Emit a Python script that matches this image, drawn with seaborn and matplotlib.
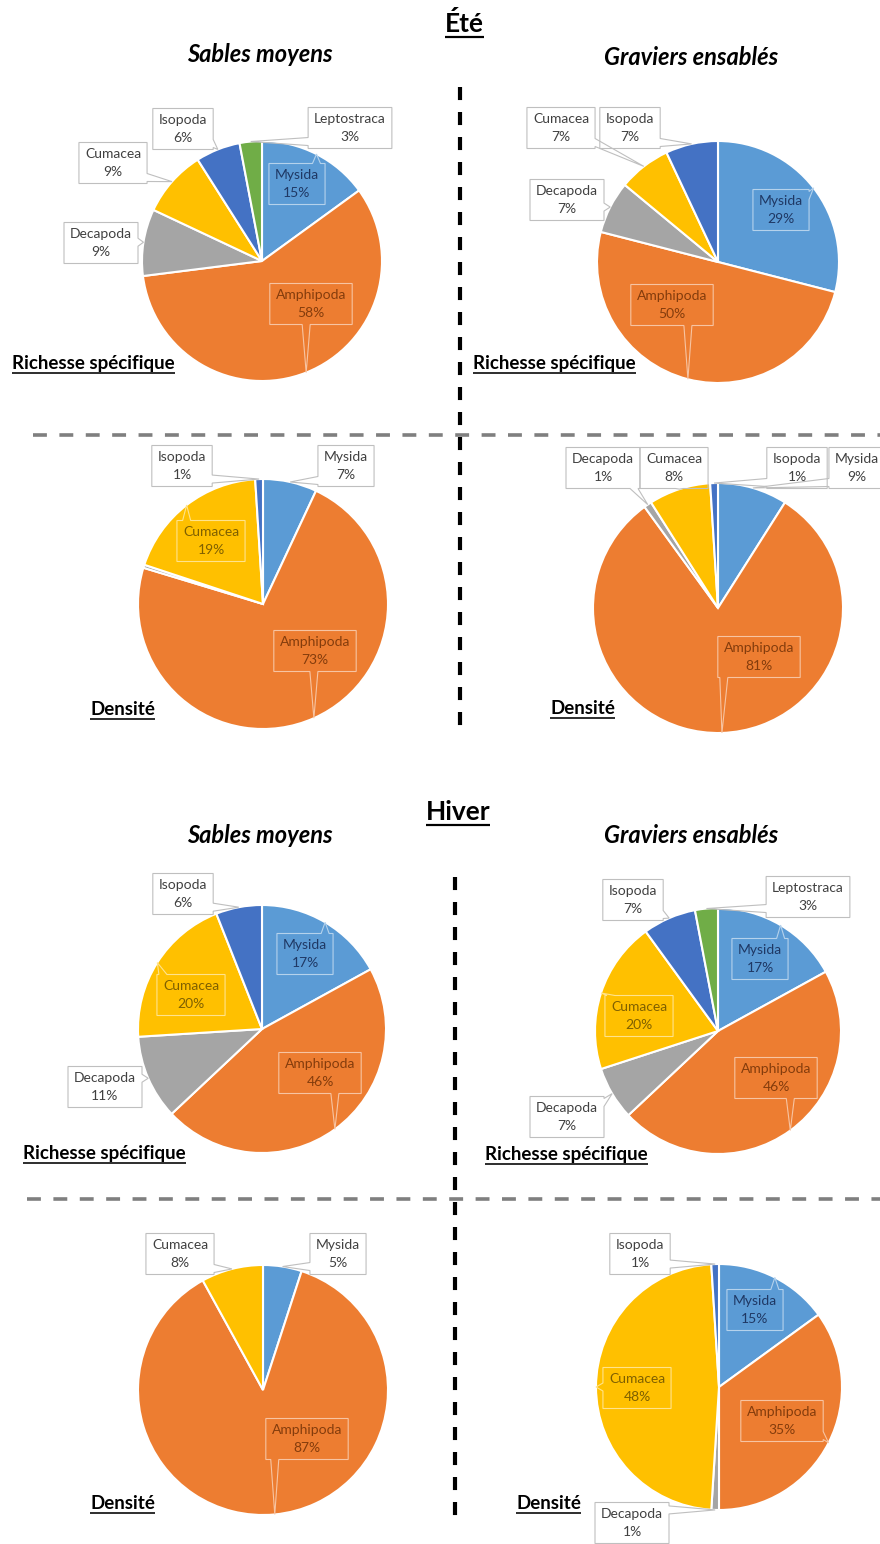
import numpy as np
import matplotlib
matplotlib.use("Agg")
import matplotlib.pyplot as plt
from matplotlib.patches import Polygon
from matplotlib.colors import to_rgb
import seaborn as sns

W, H = 880, 1544

taxa = ["Mysida", "Amphipoda", "Decapoda", "Cumacea", "Isopoda", "Leptostraca"]
couleurs = ["#5B9BD5", "#ED7D31", "#A5A5A5", "#FFC000", "#4472C4", "#70AD47"]
# couleur du texte quand l'étiquette est posée sur la part
couleurs_texte = ["#1F3864", "#843C0C", "#404040", "#7F6000", "#203864", "#385723"]

# pourcentages par taxon (même ordre que taxa)
ete_sables_richesse = [15, 58, 9, 9, 6, 3]
ete_graviers_richesse = [29, 50, 7, 7, 7, 0]
ete_sables_densite = [7, 73, 0.4, 19, 1, 0]
ete_graviers_densite = [9, 81, 1, 8, 1, 0]
hiver_sables_richesse = [17, 46, 11, 20, 6, 0]
hiver_graviers_richesse = [17, 46, 7, 20, 7, 3]
hiver_sables_densite = [5, 87, 0, 8, 0, 0]
hiver_graviers_densite = [15, 35, 1, 48, 1, 0]

# mise en page : centre (px), rayon, position des étiquettes (x, y, dans la part ?)
panneaux = [
    (ete_sables_richesse, 262, 261, 120, {
        "Mysida": (297, 184, True), "Amphipoda": (311, 304, True),
        "Decapoda": (101, 243, False), "Cumacea": (113, 163, False),
        "Isopoda": (183, 129, False), "Leptostraca": (350, 128, False)}),
    (ete_graviers_richesse, 718, 262, 121, {
        "Mysida": (781, 210, True), "Amphipoda": (672, 305, True),
        "Decapoda": (567, 200, False), "Cumacea": (561, 128, False),
        "Isopoda": (630, 128, False)}),
    (ete_sables_densite, 263, 604, 125, {
        "Mysida": (346, 466, False), "Amphipoda": (315, 651, True),
        "Cumacea": (211, 541, True), "Isopoda": (182, 466, False)}),
    (ete_graviers_densite, 718, 608, 125, {
        "Mysida": (857, 468, False), "Amphipoda": (759, 657, True),
        "Decapoda": (603, 468, False), "Cumacea": (674, 468, False),
        "Isopoda": (797, 468, False)}),
    (hiver_sables_richesse, 262, 1029, 124, {
        "Mysida": (305, 954, True), "Amphipoda": (320, 1073, True),
        "Decapoda": (105, 1087, False), "Cumacea": (191, 995, True),
        "Isopoda": (183, 894, False)}),
    (hiver_graviers_richesse, 718, 1031, 123, {
        "Mysida": (760, 959, True), "Amphipoda": (776, 1078, True),
        "Decapoda": (567, 1117, False), "Cumacea": (639, 1016, True),
        "Isopoda": (633, 900, False), "Leptostraca": (808, 897, False)}),
    (hiver_sables_densite, 263, 1390, 125, {
        "Mysida": (338, 1254, False), "Amphipoda": (307, 1439, True),
        "Cumacea": (180, 1254, False)}),
    (hiver_graviers_densite, 719, 1387, 123, {
        "Mysida": (755, 1310, True), "Amphipoda": (782, 1421, True),
        "Decapoda": (632, 1523, False), "Cumacea": (637, 1388, True),
        "Isopoda": (640, 1254, False)}),
]

sns.set_theme(style="white")
plt.rcParams["font.family"] = ["Lato", "DejaVu Sans"]
plt.rcParams["lines.scale_dashes"] = False

fig = plt.figure(figsize=(W / 100, H / 100), dpi=100)
ax = fig.add_axes([0, 0, 1, 1])


def Y(y):
    return H - y


def eclaircir(c, f=0.55):
    r, g, b = to_rgb(c)
    return (r + (1 - r) * f, g + (1 - g) * f, b + (1 - b) * f)


a_encadrer = []
for valeurs, cx, cy, r, etiquettes in panneaux:
    garde = [i for i, v in enumerate(valeurs) if v > 0]
    parts, _ = ax.pie([valeurs[i] for i in garde], colors=[couleurs[i] for i in garde],
                      startangle=90, counterclock=False, center=(cx, Y(cy)), radius=r,
                      wedgeprops=dict(edgecolor="white", linewidth=1.5))
    for p, i in zip(parts, garde):
        nom = taxa[i]
        if nom not in etiquettes:
            continue
        lx, ly, dedans = etiquettes[nom]
        mil = np.deg2rad((p.theta1 + p.theta2) / 2)
        pointe = (cx + r * np.cos(mil), Y(cy) + r * np.sin(mil))
        coul = couleurs_texte[i] if dedans else "#404040"
        t1 = ax.text(lx, Y(ly) + 9, nom, ha="center", va="center", fontsize=10,
                     color=coul, zorder=6)
        t2 = ax.text(lx, Y(ly) - 9, f"{valeurs[i]:.0f}%", ha="center", va="center",
                     fontsize=10, color=coul, zorder=6)
        bord = eclaircir(couleurs[i]) if dedans else "#BFBFBF"
        a_encadrer.append((t1, t2, lx, Y(ly), pointe, bord))

ax.set_xlim(0, W)
ax.set_ylim(0, H)
ax.set_aspect("auto")
ax.axis("off")

# traits de séparation
noir = dict(color="black", lw=3, dashes=(9.4, 8.6), zorder=1)
gris = dict(color="#7F7F7F", lw=2.6, dashes=(10, 9), zorder=1)
ax.plot([460, 460], [Y(87), Y(726)], **noir)
ax.plot([455, 455], [Y(877), Y(1518)], **noir)
ax.plot([33, W], [Y(435), Y(435)], **gris)
ax.plot([27, W], [Y(1199), Y(1199)], **gris)

a_souligner = []


def souligne(x, y, texte, taille, ha="left", ep=1.6, ecart=3.5):
    t = ax.text(x, Y(y), texte, ha=ha, va="baseline", fontsize=taille,
                fontweight="bold", color="black")
    a_souligner.append((t, y + ecart, ep))


souligne(464, 32, "Été", 19, ha="center", ep=2.2, ecart=5)
souligne(458, 820, "Hiver", 19, ha="center", ep=2.2, ecart=5)
for x, y in [(12, 369), (473, 369), (23, 1159), (485, 1160)]:
    souligne(x, y, "Richesse spécifique", 13.5)
for x, y in [(90, 715), (550, 714), (90, 1509), (516, 1509)]:
    souligne(x, y, "Densité", 13.5)

for x, y, txt in [(260, 62, "Sables moyens"), (691, 65, "Graviers ensablés"),
                  (260, 843, "Sables moyens"), (691, 843, "Graviers ensablés")]:
    ax.text(x, Y(y), txt, ha="center", va="baseline", fontsize=17,
            fontweight="bold", fontstyle="italic", color="black")

fig.canvas.draw()
rend = fig.canvas.get_renderer()
inv = ax.transData.inverted()

for t, yl, ep in a_souligner:
    bb = t.get_window_extent(rend).transformed(inv)
    ax.plot([bb.x0, bb.x1], [Y(yl), Y(yl)], color="black", lw=ep / 1.389,
            solid_capstyle="butt")

for t1, t2, bx, by, (px, py), bord in a_encadrer:
    w = max(t1.get_window_extent(rend).width, t2.get_window_extent(rend).width) + 12
    hw, hh = w / 2, 20.5
    x0, x1, y0, y1 = bx - hw, bx + hw, by - hh, by + hh
    dx, dy = px - bx, py - by
    b = 4
    bas = [(x0, y0)]
    droite = [(x1, y0)]
    haut = [(x1, y1)]
    gauche = [(x0, y1)]
    if abs(dx) > hw or abs(dy) > hh:
        if abs(dx) / hw > abs(dy) / hh:
            q = np.clip(py, y0 + b + 2, y1 - b - 2)
            if dx > 0:
                droite += [(x1, q - b), (px, py), (x1, q + b)]
            else:
                gauche += [(x0, q + b), (px, py), (x0, q - b)]
        else:
            q = np.clip(px, x0 + b + 2, x1 - b - 2)
            if dy > 0:
                haut += [(q + b, y1), (px, py), (q - b, y1)]
            else:
                bas += [(q - b, y0), (px, py), (q + b, y0)]
    ax.add_patch(Polygon(bas + droite + haut + gauche, closed=True, facecolor="none",
                         edgecolor=bord, lw=0.8, zorder=5))

fig.savefig("out.png", dpi=100)
